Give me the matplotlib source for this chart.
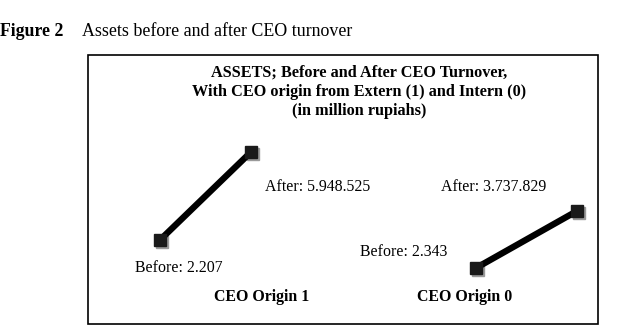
import matplotlib
matplotlib.use("Agg")
import matplotlib.pyplot as plt
from matplotlib.patches import Rectangle
from matplotlib.transforms import offset_copy

plt.rcParams['font.family'] = ['Liberation Serif', 'DejaVu Serif']

# Data
periods = [0, 1]  # Before, After
origin1_values = [2.207, 5.948525]
origin0_values = [2.343, 3.737829]
origin1_labels = ["Before: 2.207", "After: 5.948.525"]
origin0_labels = ["Before: 2.343", "After: 3.737.829"]
group_names = ["CEO Origin 1", "CEO Origin 0"]

W, H = 640, 328
fig = plt.figure(figsize=(W / 100, H / 100), dpi=100)

def fx(px):
    return px / W

def fy(py):
    return 1 - py / H

# Figure caption
fig.text(fx(0), fy(31), "Figure 2", fontsize=12.8, fontweight='bold', va='center', ha='left')
fig.text(fx(82), fy(31), "Assets before and after CEO turnover", fontsize=12.9, va='center', ha='left')

# Border box
fig.patches.append(Rectangle((fx(88), fy(324)), fx(598) - fx(88), fy(55) - fy(324),
                             transform=fig.transFigure, fill=False, edgecolor='black', linewidth=1.2))

# Chart title
title_lines = ["ASSETS; Before and After CEO Turnover,",
               "With CEO origin from Extern (1) and Intern (0)",
               "(in million rupiahs)"]
for i, t in enumerate(title_lines):
    fig.text(fx(359), fy(73 + 19 * i), t, fontsize=11.7, fontweight='bold', ha='center', va='center')

def draw_group(rect_px, values):
    l, t, r, b = rect_px
    ax = fig.add_axes([fx(l), fy(b), fx(r) - fx(l), fy(t) - fy(b)])
    ax.set_xlim(periods[0], periods[1])
    ax.set_ylim(min(values), max(values))
    ax.axis('off')
    shadow = offset_copy(ax.transData, fig=fig, x=2, y=-2, units='dots')
    ax.plot(periods, values, 's', color='#9a9a9a', markersize=8.5, transform=shadow, clip_on=False, zorder=1)
    ax.plot(periods, values, '-', color='black', linewidth=4.6, clip_on=False, zorder=2, solid_capstyle='butt')
    ax.plot(periods, values, 's', color='#1a1a1a', markersize=8.5, clip_on=False, zorder=3)
    return ax

draw_group((160, 152, 251, 240), origin1_values)
draw_group((476, 211, 577, 268), origin0_values)

# Value labels
fs = 11.4
fig.text(fx(135), fy(268), origin1_labels[0], fontsize=fs, ha='left', va='center')
fig.text(fx(265), fy(187), origin1_labels[1], fontsize=fs, ha='left', va='center')
fig.text(fx(360), fy(252), origin0_labels[0], fontsize=fs, ha='left', va='center')
fig.text(fx(441), fy(187), origin0_labels[1], fontsize=fs, ha='left', va='center')

# Group names
fig.text(fx(262), fy(297), group_names[0], fontsize=fs, fontweight='bold', ha='center', va='center')
fig.text(fx(465), fy(297), group_names[1], fontsize=fs, fontweight='bold', ha='center', va='center')

fig.savefig("out.png", dpi=100)
